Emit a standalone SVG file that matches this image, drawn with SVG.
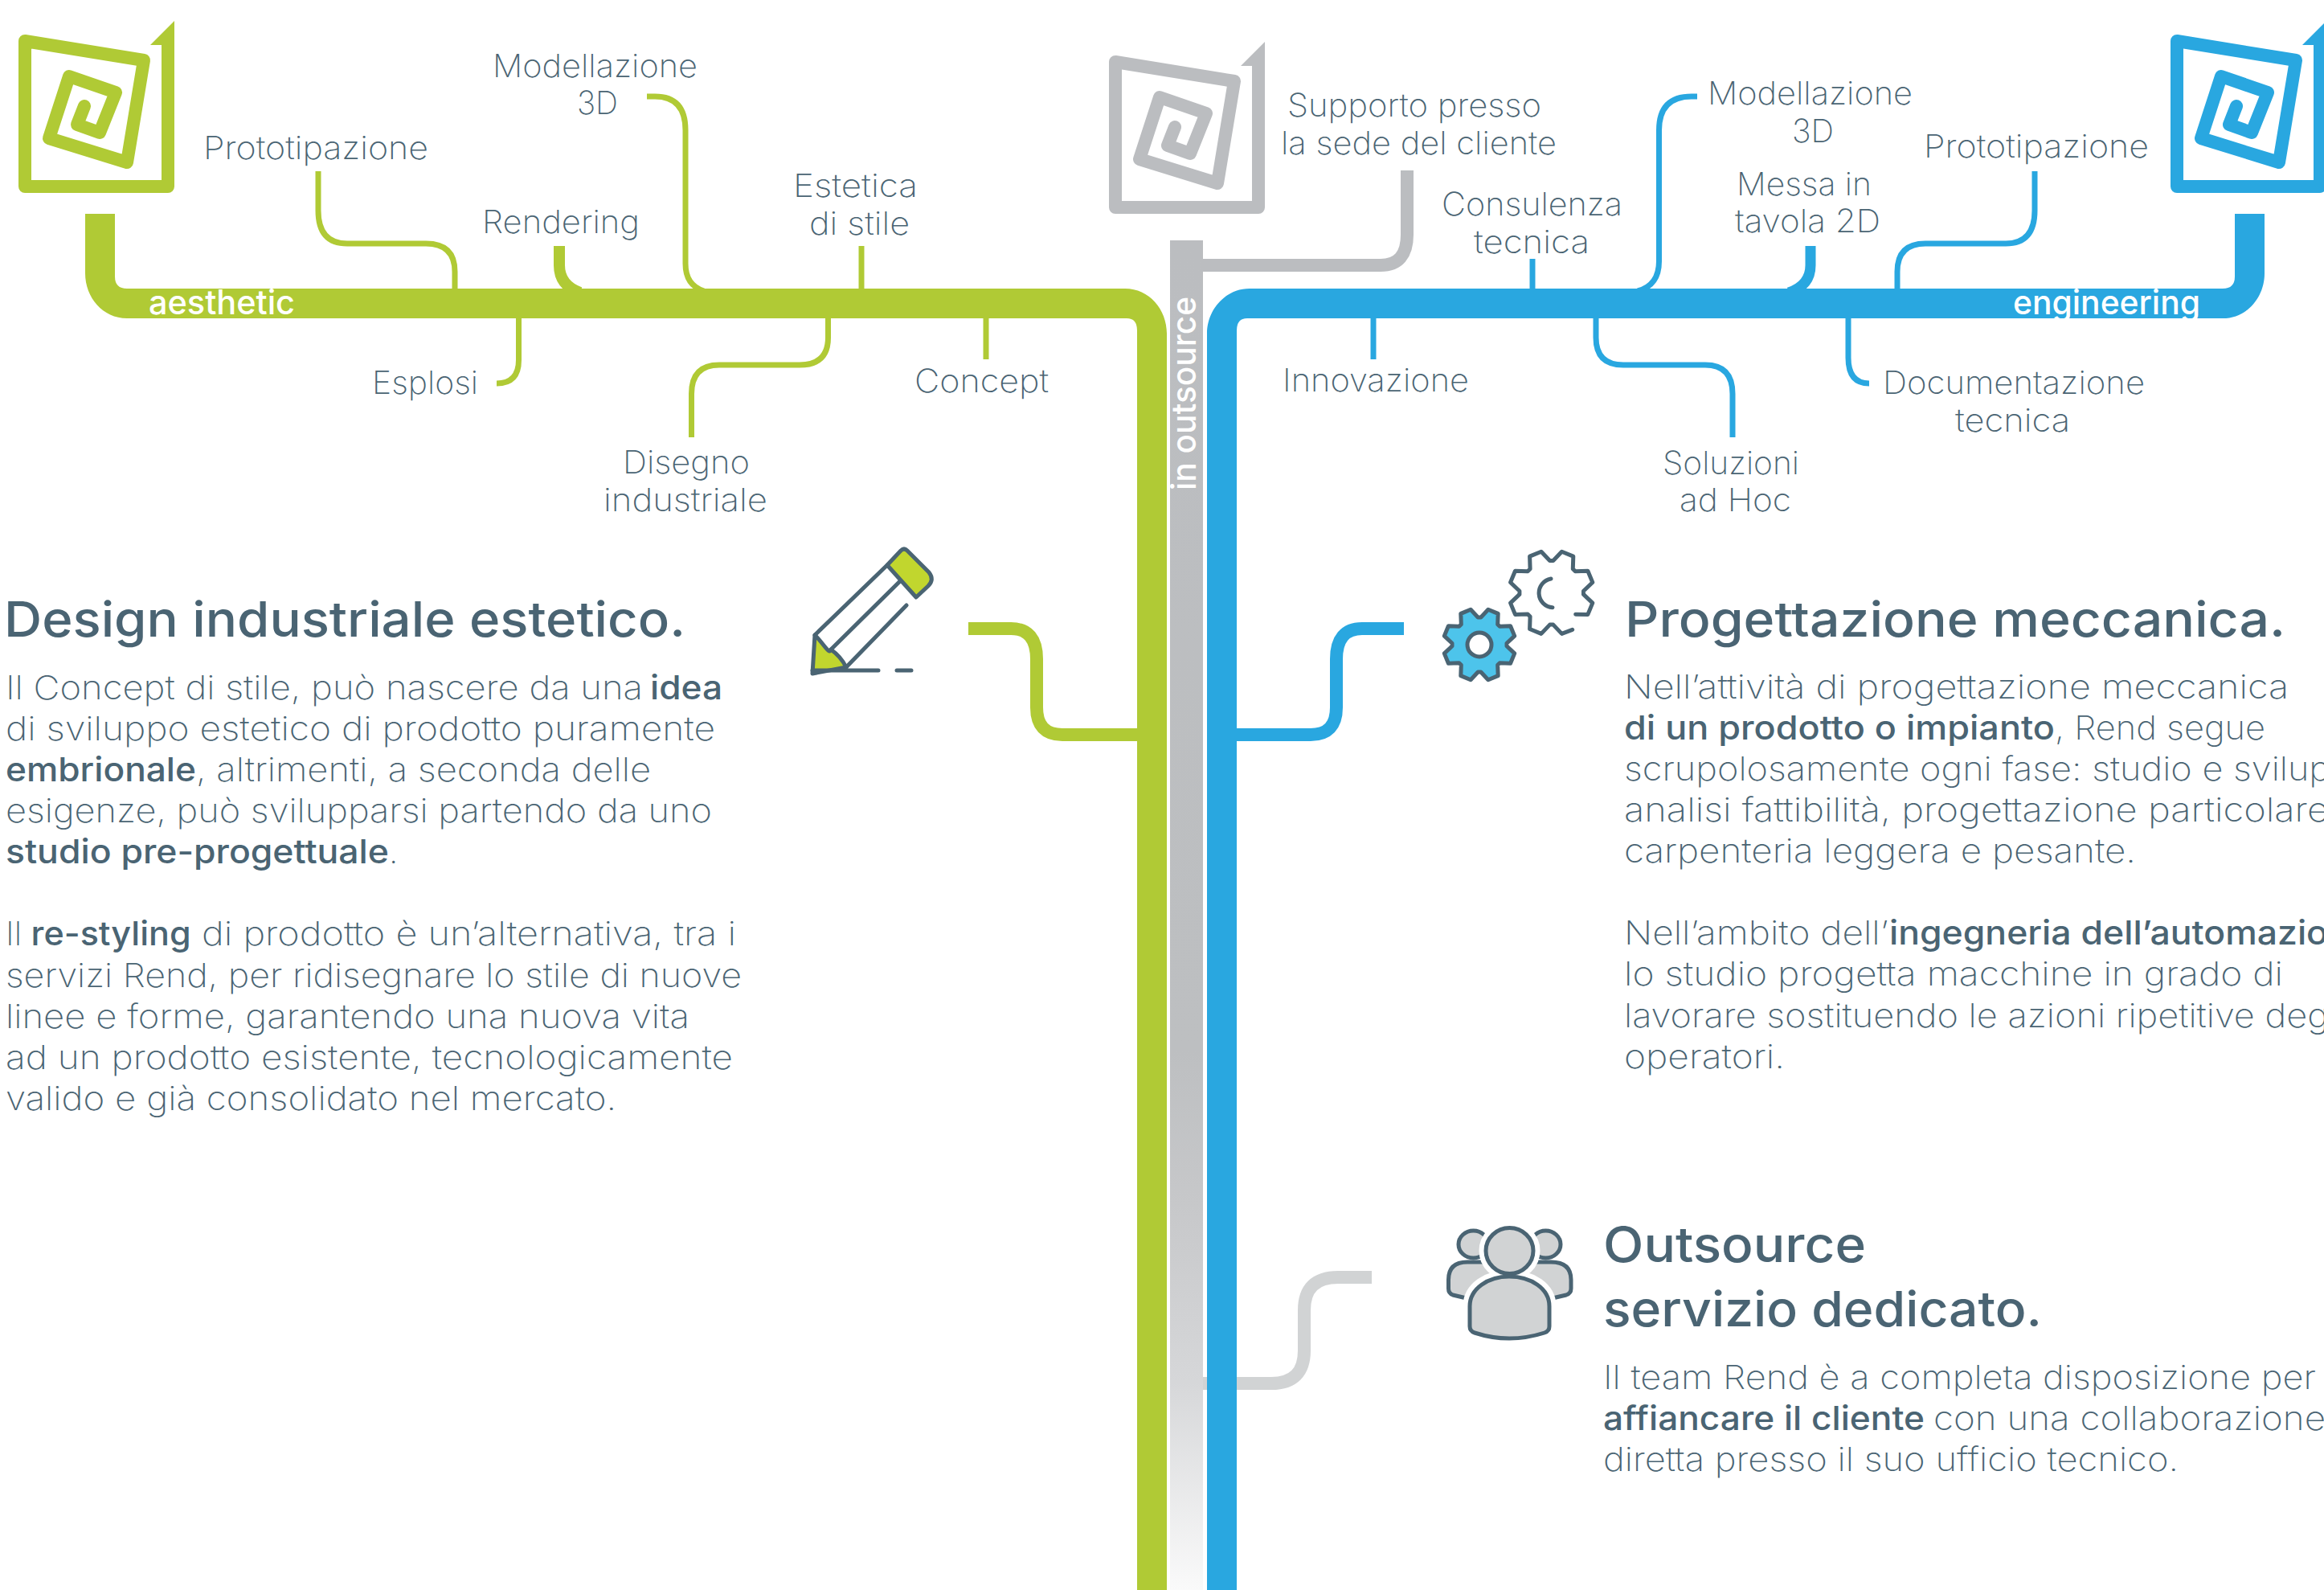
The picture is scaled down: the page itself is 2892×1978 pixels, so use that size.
<svg xmlns="http://www.w3.org/2000/svg" xmlns:xlink="http://www.w3.org/1999/xlink" width="2892" height="1978" viewBox="0 0 2892 1978">
<style>
text{font-family:Inter,"Noto Sans","Liberation Sans",sans-serif;fill:#4A6473;font-weight:200}
.l{font-size:40px}
.b{font-size:41px}
.s{font-weight:500}
.t{font-size:61px;font-weight:500}
.w{fill:#fff;font-size:42px;font-weight:500}
.ln{fill:none;stroke-width:7}
.gr{stroke:#B0CA35}
.bl{stroke:#29A7E0}
.gy{stroke:#BBBDC0}
.ic{stroke:#4A6473;stroke-width:5;stroke-linejoin:round;stroke-linecap:round}
</style>
<defs>
<linearGradient id="fade" gradientUnits="userSpaceOnUse" x1="0" y1="299" x2="0" y2="1978">
<stop offset="0" stop-color="#BBBDC0"/><stop offset=".6" stop-color="#BDBFC1"/><stop offset=".715" stop-color="#C7C8CA"/><stop offset=".846" stop-color="#D6D7D9"/><stop offset="1" stop-color="#FAFAFA"/>
</linearGradient>
<g id="logo">
<path d="M209 56V232H31V51L179 75L158 202L61 172L86 95L144 115L124 165L96 155L105 132" fill="none" stroke="currentColor" stroke-width="16" stroke-linejoin="round" stroke-linecap="round"/>
<path d="M217 26V64H201V56H187Z" fill="currentColor"/>
</g>
<path id="gear" d="M1.8-34L10.9-43.7L23.2-38.6L22.7-25.3L25.3-22.7L38.6-23.2L43.7-10.9L34-1.8L34 1.8L43.7 10.9L38.6 23.2L25.3 22.7L22.7 25.3L23.2 38.6L10.9 43.7L1.8 34L-1.8 34L-10.9 43.7L-23.2 38.6L-22.7 25.3L-25.3 22.7L-38.6 23.2L-43.7 10.9L-34 1.8L-34-1.8L-43.7-10.9L-38.6-23.2L-25.3-22.7L-22.7-25.3L-23.2-38.6L-10.9-43.7L-1.8-34Z"/>
</defs>
<rect width="2892" height="1978" fill="#fff"/>

<g id="connectors">
<g class="ln gr">
<path d="M396 213V262Q396 303 432 303H530Q566 303 566 338V362"/>
<path d="M696 306V330Q696 355 722 364" style="stroke-width:14"/>
<path d="M645.500 394V448Q645.500 477 618 477"/>
<path d="M805 120H815Q853 120 853 162V328Q853 355 876 362"/>
<path d="M1072 306V362"/>
<path d="M1030.500 394V420Q1030.500 454 995 454H895Q860.500 454 860.500 490V544"/>
<path d="M1227 394V447"/>
</g>
<g class="ln bl">
<path d="M1709 394V447"/>
<path d="M1907 322V362"/>
<path d="M2112 120H2105Q2064.500 120 2064.500 162V325Q2064.500 355 2038 362"/>
<path d="M2253 306V330Q2253 355 2226 364" style="stroke-width:13"/>
<path d="M2532 213V262Q2532 303 2496 303H2396Q2361 303 2361 338V362"/>
<path d="M2300 394V445Q2300 477 2326 477"/>
<path d="M1986 394V420Q1986 454 2020 454H2122Q2156 454 2156 490V544"/>
</g>
<path class="gy" fill="none" stroke-width="16" d="M1490 330H1718Q1751 330 1751 292V212"/>
<path fill="none" stroke="#D1D3D4" stroke-width="16" d="M1707 1589H1665Q1623 1589 1623 1630V1680Q1623 1721 1582 1721H1497"/>
<path class="gr" fill="none" stroke-width="16" d="M1205 782H1258Q1290 782 1290 820V880Q1290 914 1322 914H1420"/>
<path class="bl" fill="none" stroke-width="16" d="M1747 782H1695Q1663 782 1663 820V880Q1663 914 1631 914H1535"/>
<path fill="#B0CA35" d="M106 266H143V344Q143 359 158 359H1400C1430 359 1452 385 1452 415V1978H1415V411Q1415 396 1402 396H158C128 396 106 370 106 340Z"/>
<path fill="#29A7E0" d="M2818 266H2781V344Q2781 359 2766 359H1555C1525 359 1502 385 1502 415V1978H1539V411Q1539 396 1552 396H2766C2796 396 2818 370 2818 340Z"/>
<rect x="1456" y="299" width="41" height="1679" fill="url(#fade)"/>
<text class="w" x="185" y="391" textLength="182" lengthAdjust="spacingAndGlyphs">aesthetic</text>
<text class="w" x="2505" y="391" textLength="233" lengthAdjust="spacingAndGlyphs">engineering</text>
<text class="w" transform="translate(1488 610) rotate(-90)" textLength="241" lengthAdjust="spacingAndGlyphs">in outsource</text>
</g>

<g id="logo-aesthetic" style="color:#B0CA35"><use href="#logo"/></g>
<g id="logo-outsource" style="color:#BBBDC0"><use href="#logo" x="1357" y="26"/></g>
<g id="logo-engineering" style="color:#29A7E0"><use href="#logo" x="2678"/></g>

<g id="labels-aesthetic" transform="translate(-2 2)">
<text class="l" x="255" y="196" textLength="280" lengthAdjust="spacingAndGlyphs">Prototipazione</text>
<text class="l" x="615" y="94" textLength="255" lengthAdjust="spacingAndGlyphs">Modellazione</text>
<text class="l" x="720" y="140" textLength="51" lengthAdjust="spacingAndGlyphs">3D</text>
<text class="l" x="602" y="288" textLength="196" lengthAdjust="spacingAndGlyphs">Rendering</text>
<text class="l" x="465" y="488" textLength="132" lengthAdjust="spacingAndGlyphs">Esplosi</text>
<text class="l" x="777" y="587" textLength="158" lengthAdjust="spacingAndGlyphs">Disegno</text>
<text class="l" x="753" y="634" textLength="204" lengthAdjust="spacingAndGlyphs">industriale</text>
<text class="l" x="989" y="243" textLength="155" lengthAdjust="spacingAndGlyphs">Estetica</text>
<text class="l" x="1009" y="290" textLength="125" lengthAdjust="spacingAndGlyphs">di stile</text>
<text class="l" x="1140" y="486" textLength="167" lengthAdjust="spacingAndGlyphs">Concept</text>
</g>
<g id="labels-outsource" transform="translate(-2 2)">
<text class="l" x="1604" y="143" textLength="316" lengthAdjust="spacingAndGlyphs">Supporto presso</text>
<text class="l" x="1596" y="190" textLength="343" lengthAdjust="spacingAndGlyphs">la sede del cliente</text>
</g>
<g id="labels-engineering" transform="translate(-2 2)">
<text class="l" x="1598" y="485" textLength="232" lengthAdjust="spacingAndGlyphs">Innovazione</text>
<text class="l" x="1796" y="266" textLength="225" lengthAdjust="spacingAndGlyphs">Consulenza</text>
<text class="l" x="1836" y="313" textLength="144" lengthAdjust="spacingAndGlyphs">tecnica</text>
<text class="l" x="2127" y="128" textLength="255" lengthAdjust="spacingAndGlyphs">Modellazione</text>
<text class="l" x="2232" y="175" textLength="52" lengthAdjust="spacingAndGlyphs">3D</text>
<text class="l" x="2163" y="241" textLength="168" lengthAdjust="spacingAndGlyphs">Messa in</text>
<text class="l" x="2161" y="287" textLength="181" lengthAdjust="spacingAndGlyphs">tavola 2D</text>
<text class="l" x="2396" y="194" textLength="280" lengthAdjust="spacingAndGlyphs">Prototipazione</text>
<text class="l" x="2345" y="488" textLength="326" lengthAdjust="spacingAndGlyphs">Documentazione</text>
<text class="l" x="2435" y="535" textLength="143" lengthAdjust="spacingAndGlyphs">tecnica</text>
<text class="l" x="2071" y="588" textLength="170" lengthAdjust="spacingAndGlyphs">Soluzioni</text>
<text class="l" x="2092" y="634" textLength="139" lengthAdjust="spacingAndGlyphs">ad Hoc</text>
</g>

<g id="icon-pencil">
<path class="ic" fill="#C1D62E" d="M1014 790C1026 802 1032 815 1034 808C1044 815 1050 824 1053 830L1011 838Z"/>
<path class="ic" fill="none" d="M1014 790L1104 703M1034 808L1120 723M1053 830L1128 753M1011 834H1093M1116 834H1134"/>
<path class="ic" fill="#C1D62E" d="M1104 703L1121 685Q1125 681 1129 685L1156 712Q1163 721 1155 729L1140 743Z"/>
</g>
<g id="icon-gears">
<use href="#gear" x="1841" y="802" class="ic" fill="#4DC4EB"/>
<circle class="ic" cx="1841" cy="802" r="15" fill="#fff"/>
<path class="ic" fill="none" d="M1956.700 783.300L1943.500 788.400L1932.800 777.100L1928.600 777.100L1917.900 788.400L1903.600 782.500L1904.100 766.900L1901.100 763.900L1885.500 764.400L1879.600 750.100L1890.900 739.400L1890.900 735.200L1879.600 724.500L1885.500 710.200L1901.100 710.700L1904.100 707.700L1903.600 692.100L1917.900 686.200L1928.600 697.500L1932.800 697.500L1943.500 686.200L1957.800 692.100L1957.300 707.700L1960.300 710.700L1975.900 710.200L1981.800 724.500L1970.500 735.200L1970.500 739.400L1981.800 750.100L1975.900 764.400L1960.700 764.300M1930 720A18 18 0 0 0 1932 755.700"/>
</g>
<g id="icon-people">
<g class="ic" fill="#D1D3D4">
<ellipse cx="1833.500" cy="1548" rx="18.500" ry="17"/>
<ellipse cx="1923.500" cy="1548" rx="18.500" ry="17"/>
<path d="M1802.500 1603V1592Q1802.500 1570 1826 1570H1930Q1955 1570 1955 1592V1603Q1955 1609 1949 1611Q1878 1630 1808 1611Q1802.500 1609 1802.500 1603Z"/>
</g>
<g fill="#fff" stroke="#fff" stroke-width="17">
<ellipse cx="1878.500" cy="1556" rx="29.500" ry="28.500"/>
<path d="M1829 1650V1625C1829 1603 1852 1588 1878 1588C1905 1588 1928 1603 1928 1625V1650Q1928 1656 1922 1658Q1878 1672 1835 1658Q1829 1656 1829 1650Z"/>
</g>
<g class="ic" fill="#D1D3D4">
<ellipse cx="1878.500" cy="1556" rx="29.500" ry="28.500"/>
<path d="M1829 1650V1625C1829 1603 1852 1588 1878 1588C1905 1588 1928 1603 1928 1625V1650Q1928 1656 1922 1658Q1878 1672 1835 1658Q1829 1656 1829 1650Z"/>
</g>
</g>

<g id="text-design">
<text class="t" x="5" y="792" textLength="848" lengthAdjust="spacingAndGlyphs">Design industriale estetico.</text>
<text class="b" x="7" y="870" textLength="793" lengthAdjust="spacingAndGlyphs">Il Concept di stile, può nascere da una</text>
<text class="b s" x="809" y="870" textLength="90" lengthAdjust="spacingAndGlyphs">idea</text>
<text class="b" x="7" y="921" textLength="883" lengthAdjust="spacingAndGlyphs">di sviluppo estetico di prodotto puramente</text>
<text class="b s" x="7" y="972" textLength="237" lengthAdjust="spacingAndGlyphs">embrionale</text>
<text class="b" x="244" y="972" textLength="566" lengthAdjust="spacingAndGlyphs">, altrimenti, a seconda delle</text>
<text class="b" x="7" y="1023" textLength="879" lengthAdjust="spacingAndGlyphs">esigenze, può svilupparsi partendo da uno</text>
<text class="b s" x="7" y="1074" textLength="477" lengthAdjust="spacingAndGlyphs">studio pre-progettuale</text>
<text class="b" x="484" y="1074">.</text>
<text class="b" x="7" y="1176" textLength="20" lengthAdjust="spacingAndGlyphs">Il</text>
<text class="b s" x="38.600" y="1176" textLength="199" lengthAdjust="spacingAndGlyphs">re-styling</text>
<text class="b" x="251" y="1176" textLength="665" lengthAdjust="spacingAndGlyphs">di prodotto è un’alternativa, tra i</text>
<text class="b" x="7" y="1227.500" textLength="916" lengthAdjust="spacingAndGlyphs">servizi Rend, per ridisegnare lo stile di nuove</text>
<text class="b" x="7" y="1279" textLength="851" lengthAdjust="spacingAndGlyphs">linee e forme, garantendo una nuova vita</text>
<text class="b" x="7" y="1330" textLength="905" lengthAdjust="spacingAndGlyphs">ad un prodotto esistente, tecnologicamente</text>
<text class="b" x="7" y="1381" textLength="760" lengthAdjust="spacingAndGlyphs">valido e già consolidato nel mercato.</text>
</g>
<g id="text-engineering">
<text class="t" x="2022" y="792" textLength="822" lengthAdjust="spacingAndGlyphs">Progettazione meccanica.</text>
<text class="b" x="2021" y="869" textLength="827" lengthAdjust="spacingAndGlyphs">Nell’attività di progettazione meccanica</text>
<text class="b s" x="2021" y="920" textLength="536" lengthAdjust="spacingAndGlyphs">di un prodotto o impianto</text>
<text class="b" x="2557" y="920" textLength="262" lengthAdjust="spacingAndGlyphs">, Rend segue</text>
<text class="b" x="2021" y="971" textLength="879" lengthAdjust="spacingAndGlyphs">scrupolosamente ogni fase: studio e svilup</text>
<text class="b" x="2021" y="1022" textLength="877" lengthAdjust="spacingAndGlyphs">analisi fattibilità, progettazione particolare</text>
<text class="b" x="2021" y="1073" textLength="637" lengthAdjust="spacingAndGlyphs">carpenteria leggera e pesante.</text>
<text class="b" x="2021" y="1175" textLength="329" lengthAdjust="spacingAndGlyphs">Nell’ambito dell’</text>
<text class="b s" x="2351" y="1175" textLength="546" lengthAdjust="spacingAndGlyphs">ingegneria dell’automazio</text>
<text class="b" x="2021" y="1226" textLength="820" lengthAdjust="spacingAndGlyphs">lo studio progetta macchine in grado di</text>
<text class="b" x="2021" y="1278" textLength="877" lengthAdjust="spacingAndGlyphs">lavorare sostituendo le azioni ripetitive deg</text>
<text class="b" x="2021" y="1329" textLength="200" lengthAdjust="spacingAndGlyphs">operatori.</text>
</g>
<g id="text-outsource">
<text class="t" x="1995" y="1570" textLength="327" lengthAdjust="spacingAndGlyphs">Outsource</text>
<text class="t" x="1995" y="1650" textLength="546" lengthAdjust="spacingAndGlyphs">servizio dedicato.</text>
<text class="b" x="1995" y="1728" textLength="887" lengthAdjust="spacingAndGlyphs">Il team Rend è a completa disposizione per</text>
<text class="b s" x="1995" y="1779" textLength="400" lengthAdjust="spacingAndGlyphs">affiancare il cliente</text>
<text class="b" x="2406" y="1779" textLength="488" lengthAdjust="spacingAndGlyphs">con una collaborazione</text>
<text class="b" x="1995" y="1830" textLength="716" lengthAdjust="spacingAndGlyphs">diretta presso il suo ufficio tecnico.</text>
</g>
</svg>
